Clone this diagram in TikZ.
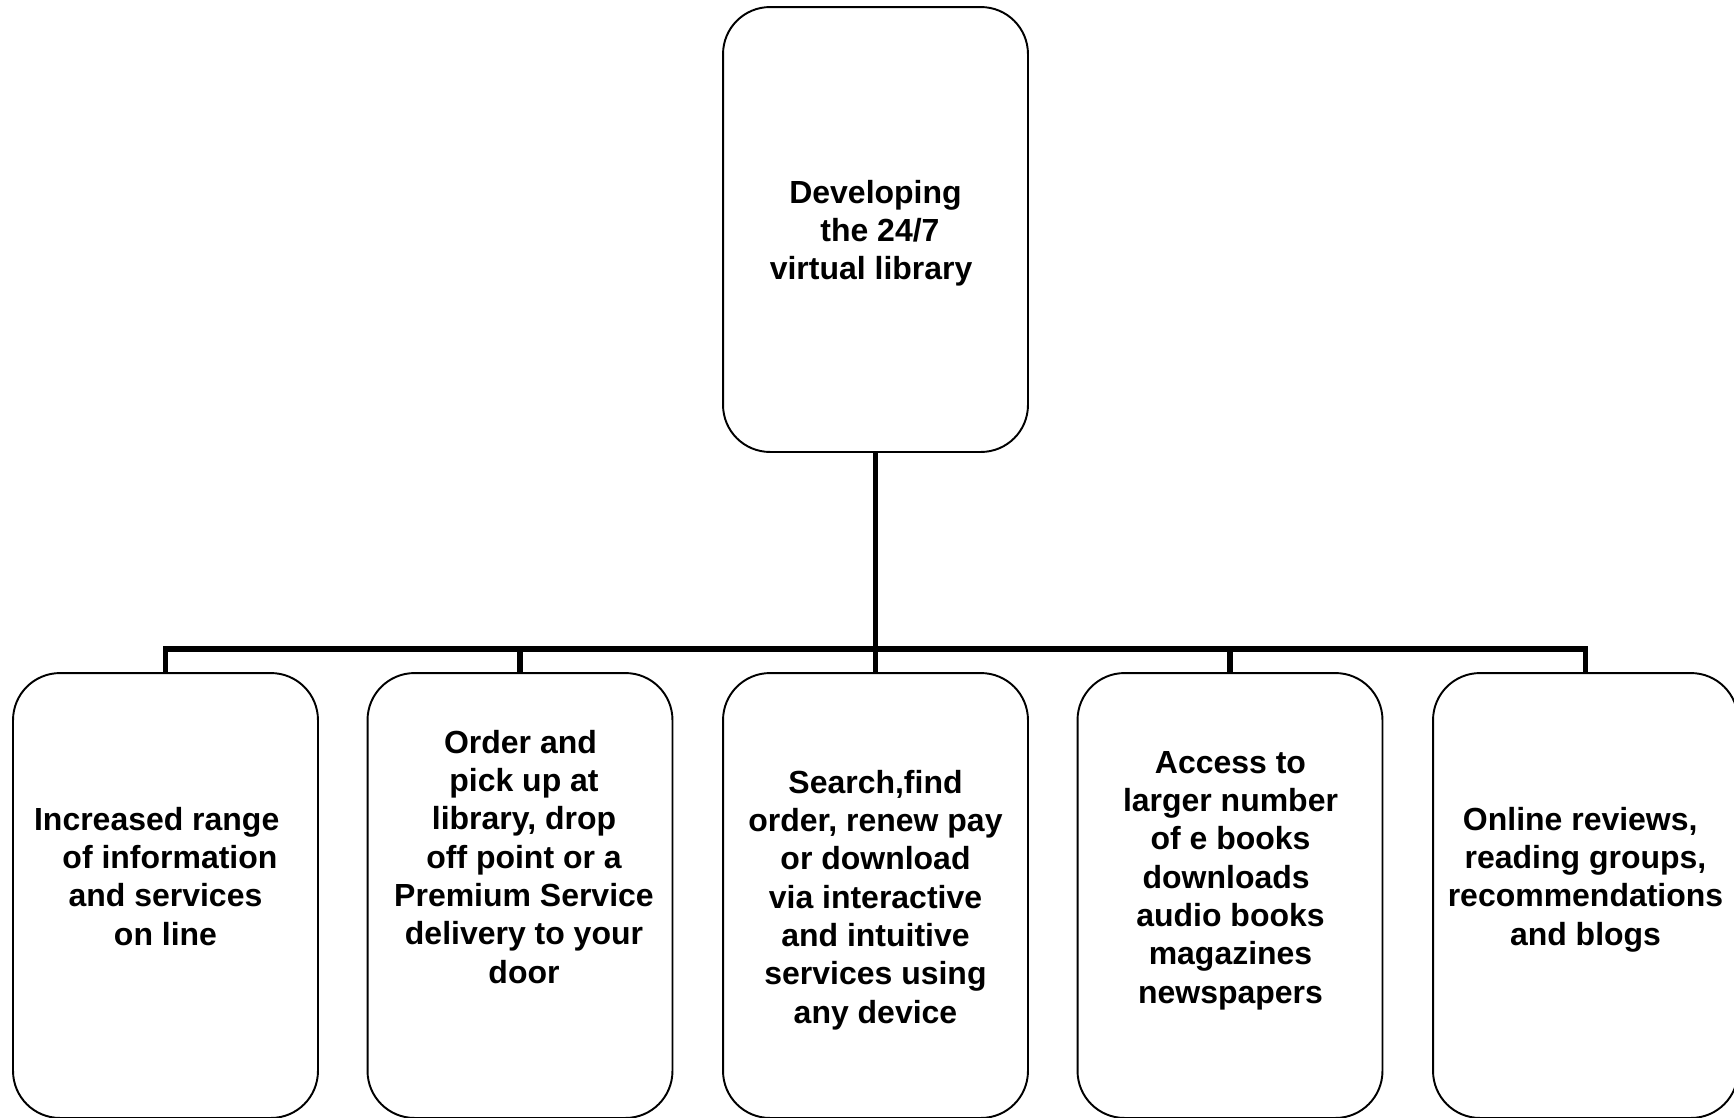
\documentclass[tikz,border=0pt]{standalone}
\usepackage{fontspec}
\setmainfont{Liberation Sans}
\begin{document}
\begin{tikzpicture}[x=0.02cm,y=-0.02cm,
  card/.style={draw=black, line width=1.1pt, rounded corners=0.94cm,
    minimum width=6.1cm, minimum height=8.9cm, inner sep=0pt},
  label/.style={anchor=north, align=center, inner sep=0pt,
    font=\fontsize{18.2}{21.8}\selectfont\bfseries},
  conn/.style={draw=black, line width=2.9pt}]
\useasboundingbox (0,0) rectangle (1734,1117);

% the head box and the five boxes below it
\node[card] (top) at (875.5,229.5) {};
\node[card] (b1) at (165.5,895.5) {};
\node[card] (b2) at (520,895.5) {};
\node[card] (b3) at (875.5,895.5) {};
\node[card] (b4) at (1230,895.5) {};
\node[card] (b5) at (1585.5,895.5) {};

% texts, placed by the baseline of their first line
\newcommand{\firstline}{\rule{0pt}{14pt}}
\node[label] (ttop) at ([yshift=14pt]875.5,203)
  {\firstline Developing\\~the 24/7\\virtual library\kern5pt};
\node[label] (t1) at ([yshift=14pt]165.5,830)
  {\firstline Increased range\kern10pt\\~of information\\and services\\on line};
\node[label] (t2) at ([yshift=14pt]524,753)
  {\firstline Order and\kern4pt\\pick up at\\library, drop\\off point or a\\Premium Service\\delivery to your\\door};
\node[label] (t3) at ([yshift=14pt]875.5,793)
  {\firstline Search,find\\order, renew pay\\or download\\via interactive\\and intuitive\\services using\\any device};
\node[label] (t4) at ([yshift=14pt]1230.5,773)
  {\firstline Access to\\larger number\\of e books\\downloads\kern5pt\\audio books\\magazines\\newspapers};
\node[label] (t5) at ([yshift=14pt]1585.5,830)
  {\firstline Online reviews,\kern6pt\\reading groups,\\recommendations\\and blogs};

% connectors: stem from the head box and the bus to each box
\coordinate (bus) at (875.5,649);
\draw[conn] (top.south) -- (b3.north);
\draw[conn] (b1.north) -- (b1.north |- bus) -- (b5.north |- bus) -- (b5.north);
\draw[conn] (b2.north) -- (b2.north |- bus);
\draw[conn] (b4.north) -- (b4.north |- bus);
\end{tikzpicture}
\end{document}
